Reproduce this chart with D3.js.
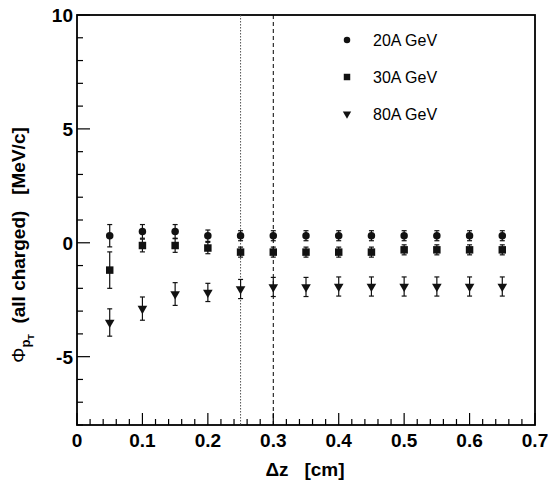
<!DOCTYPE html>
<html><head><meta charset="utf-8">
<script src="https://cdn.jsdelivr.net/npm/d3@7"></script>
<style>body{margin:0;background:#fff}svg{display:block}text{font-family:"Liberation Sans",Arial,sans-serif}</style>
</head><body>
<script>
const dz = [0.05,0.10,0.15,0.20,0.25,0.30,0.35,0.40,0.45,0.50,0.55,0.60,0.65];
const phi20 = [0.31,0.50,0.50,0.31,0.31,0.31,0.31,0.31,0.31,0.31,0.31,0.31,0.31];
const err20 = [0.49,0.30,0.30,0.25,0.22,0.22,0.22,0.22,0.22,0.22,0.22,0.22,0.22];
const phi30 = [-1.20,-0.12,-0.12,-0.23,-0.41,-0.41,-0.41,-0.41,-0.41,-0.31,-0.31,-0.31,-0.31];
const err30 = [0.80,0.28,0.30,0.25,0.22,0.22,0.22,0.22,0.22,0.22,0.22,0.22,0.22];
const phi80 = [-3.50,-2.89,-2.25,-2.18,-2.03,-1.94,-1.94,-1.92,-1.92,-1.92,-1.92,-1.92,-1.92];
const err80 = [0.60,0.51,0.50,0.40,0.42,0.42,0.42,0.42,0.42,0.42,0.42,0.42,0.42];
const seriesNames = ["20A GeV","30A GeV","80A GeV"];
const xTicks = [0,0.1,0.2,0.3,0.4,0.5,0.6,0.7];
const yTicks = [-5,0,5,10];
const vLines = [0.25,0.30];

const W=548,H=483, L=77,R=535,T=15,B=425;
const svg=d3.select("body").append("svg").attr("width",W).attr("height",H);
const x=d3.scaleLinear().domain([0,0.7]).range([L,R]);
const y=d3.scaleLinear().domain([-8,10]).range([B,T]);

// frame
svg.append("rect").attr("x",L).attr("y",T).attr("width",R-L).attr("height",B-T)
  .attr("fill","none").attr("stroke","#000").attr("stroke-width",1.8);

// x ticks
const xMinor=d3.range(0,0.7001,0.02);
svg.append("g").selectAll("line").data(xMinor).join("line")
  .attr("x1",d=>x(d)).attr("x2",d=>x(d)).attr("y1",B)
  .attr("y2",(d,i)=>i%5===0?B-12:B-6).attr("stroke","#000").attr("stroke-width",1.2);
svg.append("g").selectAll("text").data(xTicks).join("text")
  .attr("x",d=>x(d)).attr("y",447).attr("text-anchor","middle")
  .attr("font-size",19).attr("font-weight","bold").text(d=>d===0?"0":d.toFixed(1));

// y ticks
const yMinor=d3.range(-8,10.001,1);
svg.append("g").selectAll("line").data(yMinor).join("line")
  .attr("y1",d=>y(d)).attr("y2",d=>y(d)).attr("x1",L)
  .attr("x2",d=>d%5===0?L+13:L+6).attr("stroke","#000").attr("stroke-width",1.2);
svg.append("g").selectAll("text").data(yTicks).join("text")
  .attr("x",L-4).attr("y",d=>y(d)+7).attr("text-anchor","end")
  .attr("font-size",19).attr("font-weight","bold").text(d=>d);

// vertical lines
svg.append("line").attr("x1",x(vLines[0])).attr("x2",x(vLines[0])).attr("y1",T).attr("y2",B)
  .attr("stroke","#555").attr("stroke-width",1).attr("stroke-dasharray","1.5,1.5");
svg.append("line").attr("x1",x(vLines[1])).attr("x2",x(vLines[1])).attr("y1",T).attr("y2",B)
  .attr("stroke","#000").attr("stroke-width",1).attr("stroke-dasharray","4,3");

const series=[
  {v:phi20,e:err20,sym:d3.symbolCircle,size:44},
  {v:phi30,e:err30,sym:d3.symbolSquare,size:56},
  {v:phi80,e:err80,sym:d3.symbolTriangle,size:40,rot:180}
];
series.forEach(s=>{
  const g=svg.append("g");
  const pts=dz.map((d,i)=>({x:d,v:s.v[i],e:s.e[i]}));
  g.selectAll("line.eb").data(pts).join("line").attr("class","eb")
    .attr("x1",d=>x(d.x)).attr("x2",d=>x(d.x)).attr("y1",d=>y(d.v+d.e)).attr("y2",d=>y(d.v-d.e))
    .attr("stroke","#111").attr("stroke-width",1.2);
  [1,-1].forEach(sg=>{
    g.selectAll("line.cap"+sg).data(pts).join("line").attr("class","cap"+sg)
      .attr("x1",d=>x(d.x)-2.5).attr("x2",d=>x(d.x)+2.5)
      .attr("y1",d=>y(d.v+sg*d.e)).attr("y2",d=>y(d.v+sg*d.e))
      .attr("stroke","#111").attr("stroke-width",1.2);
  });
  g.selectAll("path").data(pts).join("path")
    .attr("d",d3.symbol().type(s.sym).size(s.size))
    .attr("transform",d=>`translate(${x(d.x)},${y(d.v)})`+(s.rot?` rotate(${s.rot})`:""))
    .attr("fill","#111");
});

// legend
const legY=[40,77,114];
series.forEach((s,i)=>{
  svg.append("path").attr("d",d3.symbol().type(s.sym).size(s.size*0.75)())
    .attr("transform",`translate(347,${legY[i]})`+(s.rot?` rotate(${s.rot})`:"")).attr("fill","#111");
  svg.append("text").attr("x",373).attr("y",legY[i]+6).attr("font-size",16).text(seriesNames[i]);
});

// axis titles
svg.append("text").attr("x",305).attr("y",476).attr("text-anchor","middle")
  .attr("font-size",19).attr("font-weight","bold").attr("xml:space","preserve").text("\u0394z   [cm]");

const yt=svg.append("text").attr("transform","translate(25,245) rotate(-90)")
  .attr("text-anchor","middle").attr("font-size",19).attr("font-weight","bold").attr("xml:space","preserve");
yt.append("tspan").attr("font-weight","normal").text("\u03A6");
yt.append("tspan").attr("font-size",13).attr("dy",5).text("p");
yt.append("tspan").attr("font-size",9).attr("dy",4).text("T");
yt.append("tspan").attr("dy",-9).text("  (all charged)   [MeV/c]");
</script>
</body></html>
